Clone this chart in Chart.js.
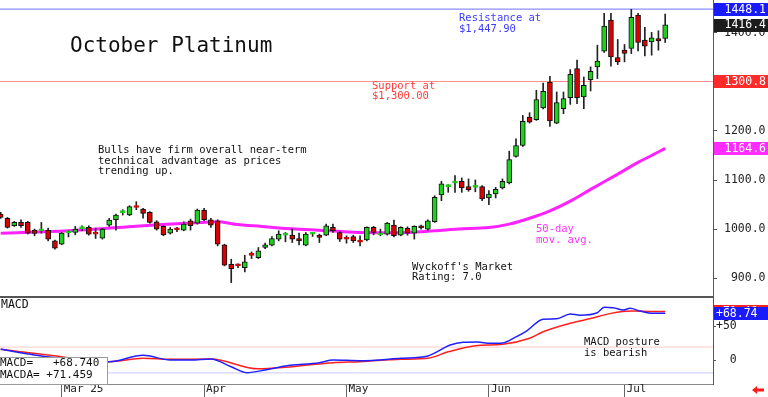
<!DOCTYPE html>
<html>
<head>
<meta charset="utf-8">
<script src="https://cdn.jsdelivr.net/npm/chart.js@4.4.1/dist/chart.umd.min.js"></script>
<style>
  html, body { margin: 0; padding: 0; background: #fff; }
  #wrap { position: relative; width: 768px; height: 397px; overflow: hidden; background: #fff; }
  canvas { position: absolute; left: 0; }
  #price { top: 0; }
  #macd { top: 298px; }
</style>
</head>
<body>
<div id="wrap">
  <canvas id="price" width="768" height="298"></canvas>
  <canvas id="macd" width="768" height="99"></canvas>
</div>
<script>
// October Platinum - daily candles, 50-day MA, MACD

// ===== Data =====
const opens = [
  1030.6, 1021.7, 1006.7, 1013.5, 1013.5, 997.9, 996.5, 997.9, 976, 969,
  992.5, 993, 1001, 1003.3, 990.2, 981.5, 1008, 1019, 1033.5, 1028.6,
  1044.5, 1040.8, 1034, 1014.9, 1005.4, 991.7, 998.9, 997.9, 1017, 1012.2,
  1038.8, 1019, 1017, 967.9, 928.3, 925.5, 921.5, 946.8, 941.9, 962.4,
  967.2, 979.5, 987.5, 987.6, 980.8, 967.2, 989.5, 987.6, 987.6, 1003.3,
  993, 979.8, 984.9, 974, 978.1, 1003.3, 988, 989.7, 1008.1, 987.6,
  1001.3, 991.7, 1005.5, 999.9, 1014.9, 1069.5, 1086.5, 1093.8, 1097.4, 1086.5,
  1085, 1086.5, 1063.4, 1071.5, 1083.8, 1094, 1147.9, 1170.4, 1228.3, 1222.9,
  1246.7, 1299.2, 1216, 1245.4, 1267.8, 1327.2, 1269.2, 1304.7, 1330.6, 1362.6,
  1426, 1349.6, 1364.6, 1368, 1436.2, 1385.1, 1381.7, 1388.5, 1388.5
];
const highs = [
  1034, 1023.8, 1015.6, 1019, 1015.6, 1000, 1013.5, 1002, 977.4, 993,
  996.5, 1005.4, 1006.7, 1006.7, 1002, 1001.3, 1021.7, 1030.6, 1039.5, 1047.6,
  1055.8, 1042.2, 1035.4, 1017, 1006.7, 1003.3, 1003.3, 1014.9, 1020.4, 1040.8,
  1042.2, 1021.7, 1019, 969.2, 938.6, 929, 946.7, 953.5, 962.4, 971.3,
  984.9, 996.5, 993, 999.9, 991.7, 993, 993, 989.7, 1010.1, 1010.1,
  994.4, 986.3, 987.6, 986.3, 1004.7, 1005.4, 999.9, 1013.5, 1018.3, 1004.7,
  1004.7, 1006.7, 1008.1, 1019, 1068.1, 1097.4, 1090.6, 1109, 1104.2, 1102.2,
  1100.1, 1088.5, 1078.3, 1085.1, 1102.2, 1158.8, 1184, 1231.7, 1237.2, 1282.8,
  1297.8, 1311.5, 1279.4, 1279.4, 1325.1, 1344.2, 1310, 1330.6, 1374.9, 1439.6,
  1439.6, 1386.5, 1376.2, 1447.9, 1439.6, 1411, 1400.8, 1404.2, 1438.3
];
const lows = [
  1021.7, 1002, 1005.4, 1003.3, 989.7, 986.3, 991.7, 976, 959, 968,
  984, 988.3, 996.5, 987.6, 980.8, 979.5, 1005.4, 997.9, 1028.6, 1027.2,
  1039.5, 1022.4, 1012.2, 997.9, 986.3, 989.7, 994.5, 996.5, 997.9, 1010,
  1017, 1003.3, 965.8, 924.9, 890.8, 921.5, 912.6, 939.9, 939.9, 960.3,
  965.8, 976, 974, 972.6, 967.9, 965.8, 984.9, 972.6, 986.3, 993,
  974.7, 971.3, 972.6, 965.8, 976, 988.3, 986.3, 987.6, 984.2, 986.3,
  987.6, 979.5, 999.9, 997.9, 1013.5, 1057.9, 1074.9, 1074.9, 1074.9, 1077,
  1076, 1057.9, 1049.7, 1063.4, 1081.7, 1092, 1146.5, 1168.3, 1216, 1221.5,
  1244.7, 1209.2, 1214.7, 1235.1, 1254.2, 1255.6, 1245.4, 1281.5, 1306.7, 1359.9,
  1331.9, 1335.3, 1340.8, 1357.8, 1363.3, 1353.1, 1354.4, 1364.6, 1380.3
];
const closes = [
  1023.8, 1003.3, 1013.5, 1006.7, 991.7, 991, 997.5, 979.5, 961, 991.7,
  993, 1000, 1002, 989.7, 989.6, 1000, 1018.3, 1028.6, 1034, 1045.6,
  1044, 1032, 1013.5, 1000, 988.3, 1000, 998.5, 1010, 1006.7, 1038.8,
  1019, 1008.1, 969.2, 926.3, 919.4, 924.9, 933, 946.4, 955.6, 967.9,
  980.8, 989.7, 988, 979.5, 976, 989.7, 990, 982.9, 1006.7, 996.5,
  979.5, 979.3, 976, 973.5, 1003.3, 993, 988.5, 1012.2, 986.3, 1003.3,
  991.7, 1005.4, 1002.5, 1017, 1064.7, 1092, 1087, 1094.3, 1083.8, 1080.4,
  1085.5, 1061.3, 1071.5, 1081, 1097.4, 1141.7, 1170.4, 1219.5, 1218.1, 1263.8,
  1280.8, 1220.2, 1257.6, 1265.8, 1315.6, 1267.8, 1293, 1321.6, 1342.2, 1413.7,
  1351, 1340.8, 1357.8, 1431.5, 1380.3, 1372.8, 1389.9, 1383.7, 1416.4
];

// 50-day moving average (day index, value)
const maDays = [0, 10, 19.5, 24.5, 29.5, 32, 34.5, 38.5, 43.5, 48.5, 53.5, 58.5, 64, 67.5, 72, 75, 78, 81, 84, 87, 91, 94, 96, 98];
const maValues = [991.7, 996.5, 1005.4, 1010, 1013.5, 1014.9, 1010, 1005.4, 1000, 996.5, 993, 992.5, 996.5, 1000, 1003, 1010, 1022, 1037, 1057, 1081, 1112, 1136, 1150, 1164.6];

// MACD (blue) and its average (red)
const macdDays = [0, 5, 9, 16, 21, 25, 28, 31, 34, 36.3, 39, 42, 47, 49, 53, 59, 63, 66.3, 68.2, 70.3, 72.2, 74, 76, 77.6, 80, 82, 84, 85.4, 88, 89, 90.3, 91.8, 92.8, 94.3, 96.2, 98];
const macdLine = [15.7, 7.4, 2, -2.5, 7, 0, 0, 1.5, -10, -18.6, -14.7, -8.8, -3.9, 0, -1, 2.5, 6, 22, 26, 26.5, 24.5, 25, 34, 43, 60, 60.5, 67.6, 66, 69.6, 77.5, 77, 73.5, 76, 72, 68.6, 68.74];
const signalDays = [0, 7, 16, 21, 25, 31, 38, 42, 49, 53, 59, 63, 66, 70, 74, 78, 80, 84, 87, 90, 93, 96, 98];
const signalLine = [15.7, 7.4, -2.5, 2.5, 1, 1.5, -13, -10.8, -3.9, -2.5, 1, 2.5, 12, 21, 23, 32, 41.6, 54, 61, 68.6, 72, 71.5, 71.46];
const macdLevels = [19, -19];
const macdReadout = { macd: "+68.740", macda: "+71.459" };

// axis ticks
const monthDays = [9, 30, 51, 72, 92];
const monthLabels = ["Mar 25", "Apr", "May", "Jun", "Jul"];
const priceTicks = [900, 1000, 1100, 1200, 1300, 1400];
const macdTicks = [0, 50];

const resistance = 1448.1;
const support = 1300.8;

// ===== Styles =====
const MONO = "'DejaVu Sans Mono', monospace";
const UP = "#1fd01f";
const DOWN = "#d80000";
const X_MIN = -0.1;
const X_MAX = 105.05;

Chart.defaults.font.family = MONO;
Chart.defaults.color = "#222";

const last = (a) => a[a.length - 1];
const pts = (xs, ys) => xs.map((x, i) => ({ x, y: ys[i] }));
const flat = (v) => [{ x: X_MIN, y: v }, { x: X_MAX, y: v }];

const isDoji = (i) => Math.abs(closes[i] - opens[i]) < 1.5;
const bodyFill = closes.map((c, i) => (c >= opens[i] ? UP : DOWN));
const bodyEdge = closes.map((c, i) => (isDoji(i) ? bodyFill[i] : "#111"));

function text(ctx, lines, x, y, lh, color, size) {
  ctx.save();
  ctx.font = `${size}px ${MONO}`;
  ctx.fillStyle = color;
  ctx.textAlign = "left";
  ctx.textBaseline = "middle";
  lines.forEach((t, i) => ctx.fillText(t, x, y + i * lh));
  ctx.restore();
}

function valueBox(ctx, y, label, bg, align) {
  ctx.save();
  ctx.fillStyle = bg;
  ctx.fillRect(714, Math.round(y) - 6, 54, 13);
  ctx.fillStyle = "#fff";
  ctx.font = `11.5px ${MONO}`;
  ctx.textBaseline = "middle";
  ctx.textAlign = align;
  ctx.fillText(label, align === "right" ? 766 : 716, y + 0.5);
  ctx.restore();
}

// ===== Price chart =====
const pricePlugin = {
  id: "priceDecor",
  afterDraw(chart) {
    const { ctx, chartArea } = chart;
    const y = chart.scales.y;

    ctx.save();
    ctx.fillStyle = "#555";
    ctx.fillRect(0, chartArea.bottom - 2, chartArea.right, 2);
    ctx.restore();

    text(ctx, ["October Platinum"], 70, 47, 0, "#111", 21);
    text(ctx, ["Resistance at", "$1,447.90"], 459, 18.5, 10.7, "#3a3aff", 10.5);
    text(ctx, ["Support at", "$1,300.00"], 372, 86, 10.7, "#ff3b3b", 10.5);
    text(ctx, ["Bulls have firm overall near-term", "technical advantage as prices", "trending up."], 98, 150, 10.8, "#111", 10.5);
    text(ctx, ["50-day", "mov. avg."], 536, 229.5, 10.7, "#ff33ff", 10.5);
    text(ctx, ["Wyckoff's Market", "Rating: 7.0"], 412, 267, 10.7, "#111", 10.5);

    valueBox(ctx, y.getPixelForValue(resistance), resistance.toFixed(1), "#1a1aff", "right");
    valueBox(ctx, y.getPixelForValue(last(closes)), last(closes).toFixed(1), "#1c1c1c", "right");
    valueBox(ctx, y.getPixelForValue(support), support.toFixed(1), "#ff2a2a", "right");
    valueBox(ctx, y.getPixelForValue(last(maValues)), last(maValues).toFixed(1), "#ff2cff", "right");
  },
};

new Chart(document.getElementById("price"), {
  type: "bar",
  data: {
    datasets: [
      {
        label: "body",
        data: opens.map((o, i) => ({ x: i, y: [o, closes[i]] })),
        backgroundColor: bodyFill,
        borderColor: bodyEdge,
        borderWidth: 1,
        borderSkipped: false,
        barThickness: 5,
        minBarLength: 2,
        grouped: false,
      },
      {
        label: "wick",
        data: lows.map((l, i) => ({ x: i, y: [l, highs[i]] })),
        backgroundColor: "#222",
        borderWidth: 0,
        barThickness: 1,
        grouped: false,
      },
      {
        type: "line",
        label: "50-day",
        data: pts(maDays, maValues),
        borderColor: "#ff22ff",
        borderWidth: 3,
        pointRadius: 0,
        cubicInterpolationMode: "monotone",
      },
      {
        type: "line",
        label: "resistance",
        data: flat(resistance),
        borderColor: "#8d8dff",
        borderWidth: 1.2,
        pointRadius: 0,
      },
      {
        type: "line",
        label: "support",
        data: flat(support),
        borderColor: "#ff8f8f",
        borderWidth: 1.2,
        pointRadius: 0,
      },
    ],
  },
  options: {
    responsive: false,
    animation: false,
    events: [],
    layout: { padding: 0 },
    plugins: { legend: { display: false }, tooltip: { enabled: false } },
    scales: {
      x: { type: "linear", min: X_MIN, max: X_MAX, offset: false, display: false, grid: { offset: false } },
      y: {
        position: "right",
        min: 859.5,
        max: 1466.9,
        afterBuildTicks: (s) => { s.ticks = priceTicks.map((v) => ({ value: v })); },
        afterFit: (s) => { s.width = 55; s.paddingTop = 0; s.paddingBottom = 0; },
        ticks: {
          // mono font, so padding the string right-aligns the labels
          callback: (v) => Number(v).toFixed(1).padStart(6),
          crossAlign: "near",
          padding: 7,
          color: "#222",
          font: { size: 11.5 },
        },
        grid: { drawOnChartArea: false, tickLength: 4, color: "#555" },
        border: { color: "#555", width: 1 },
      },
    },
  },
  plugins: [pricePlugin],
});

// ===== MACD chart =====
const macdPlugin = {
  id: "macdDecor",
  afterDraw(chart) {
    const { ctx } = chart;
    const y = chart.scales.y;

    text(ctx, ["MACD"], 1, 7.5, 0, "#111", 11.5);
    text(ctx, ["MACD posture", "is bearish"], 584, 44.5, 10.5, "#111", 10.5);

    ctx.save();
    ctx.fillStyle = "#fff";
    ctx.fillRect(0, 59, 108, 27);
    ctx.strokeStyle = "#9a9a9a";
    ctx.lineWidth = 1;
    ctx.strokeRect(-0.5, 59.5, 108, 27);
    ctx.restore();
    text(ctx, ["MACD=   " + macdReadout.macd, "MACDA= " + macdReadout.macda], 0, 65.5, 11.8, "#111", 11);

    valueBox(ctx, y.getPixelForValue(last(signalLine)), "+" + last(signalLine).toFixed(2), "#ff2020", "left");
    valueBox(ctx, y.getPixelForValue(last(macdLine)), "+" + last(macdLine).toFixed(2), "#1a1aff", "left");

    // little red arrow, bottom right
    ctx.save();
    ctx.fillStyle = "#ff1a1a";
    ctx.beginPath();
    ctx.moveTo(752, 92);
    ctx.lineTo(757, 88);
    ctx.lineTo(757, 90.5);
    ctx.lineTo(764, 90.5);
    ctx.lineTo(764, 93.5);
    ctx.lineTo(757, 93.5);
    ctx.lineTo(757, 96);
    ctx.closePath();
    ctx.fill();
    ctx.restore();
  },
};

new Chart(document.getElementById("macd"), {
  type: "line",
  data: {
    datasets: [
      {
        label: "MACD",
        data: pts(macdDays, macdLine),
        borderColor: "#1f1fff",
        borderWidth: 1.5,
        pointRadius: 0,
        cubicInterpolationMode: "monotone",
      },
      {
        label: "MACDA",
        data: pts(signalDays, signalLine),
        borderColor: "#ff1f1f",
        borderWidth: 1.5,
        pointRadius: 0,
        cubicInterpolationMode: "monotone",
      },
      {
        label: "upper",
        data: flat(macdLevels[0]),
        borderColor: "#ffcaca",
        borderWidth: 1,
        pointRadius: 0,
      },
      {
        label: "lower",
        data: flat(macdLevels[1]),
        borderColor: "#c8c8ff",
        borderWidth: 1,
        pointRadius: 0,
      },
    ],
  },
  options: {
    responsive: false,
    animation: false,
    events: [],
    layout: { padding: 0 },
    plugins: { legend: { display: false }, tooltip: { enabled: false } },
    scales: {
      x: {
        type: "linear",
        min: X_MIN,
        max: X_MAX,
        offset: false,
        afterBuildTicks: (s) => { s.ticks = monthDays.map((v) => ({ value: v })); },
        afterFit: (s) => { s.height = 13; s.paddingLeft = 0; s.paddingRight = 0; },
        ticks: {
          callback: (v, i) => monthLabels[i],
          align: "start",
          labelOffset: 2,
          padding: -14,
          maxRotation: 0,
          autoSkip: false,
          color: "#222",
          font: { size: 11 },
        },
        grid: { drawOnChartArea: false, offset: false, tickLength: 13, color: "#666" },
        border: { color: "#888", width: 1 },
      },
      y: {
        position: "right",
        min: -35.3,
        max: 91.2,
        afterBuildTicks: (s) => { s.ticks = macdTicks.map((v) => ({ value: v })); },
        afterFit: (s) => { s.width = 55; s.paddingTop = 0; s.paddingBottom = 0; },
        ticks: {
          callback: (v) => (v > 0 ? "+" + v : String(v)).padStart(3),
          crossAlign: "near",
          padding: 0,
          color: "#222",
          font: { size: 11.5 },
        },
        grid: { drawOnChartArea: false, tickLength: 3, color: "#555" },
        border: { color: "#555", width: 1 },
      },
    },
  },
  plugins: [macdPlugin],
});
</script>
</body>
</html>
